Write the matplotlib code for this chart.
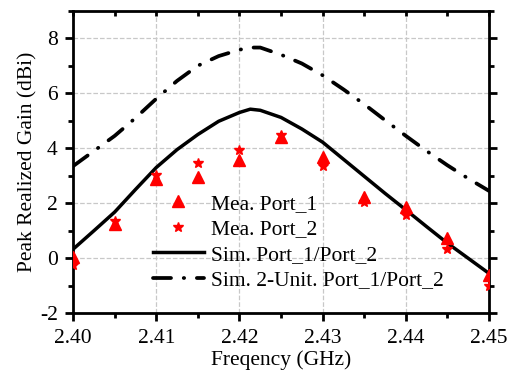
import matplotlib
matplotlib.use('Agg')
import matplotlib.pyplot as plt
from matplotlib.ticker import MultipleLocator

plt.rcParams['font.family'] = ['Liberation Serif', 'DejaVu Serif']
plt.rcParams['font.size'] = 15.5
plt.rcParams['axes.unicode_minus'] = False

# measured points
freq_mea = [2.400, 2.405, 2.410, 2.415, 2.420, 2.425, 2.430, 2.435, 2.440, 2.445, 2.450]
port1 = [0.05, 1.24, 2.89, 2.97, 3.58, 4.42, 3.67, 2.22, 1.86, 0.75, -0.61]
port2 = [-0.25, 1.36, 3.01, 3.46, 3.94, 4.49, 3.35, 2.04, 1.59, 0.32, -1.01]

# simulated curves
freq_sim = [2.4000, 2.4025, 2.4050, 2.4075, 2.4100, 2.4125, 2.4150, 2.4175, 2.4200,
            2.4213, 2.4225, 2.4250, 2.4275, 2.4300, 2.4325, 2.4350, 2.4375, 2.4400,
            2.4425, 2.4450, 2.4475, 2.4500]
sim_single = [0.33, 1.00, 1.68, 2.50, 3.30, 3.95, 4.50, 4.98, 5.30,
              5.42, 5.38, 5.12, 4.70, 4.22, 3.60, 2.98, 2.36, 1.76,
              1.15, 0.55, 0.00, -0.55]
sim_2unit = [3.35, 3.90, 4.45, 5.10, 5.80, 6.45, 7.00, 7.35, 7.58,
             7.66, 7.66, 7.40, 7.08, 6.65, 6.14, 5.60, 5.02, 4.45,
             3.90, 3.38, 2.90, 2.45]
xticks = [2.40, 2.41, 2.42, 2.43, 2.44, 2.45]
xlabels = ['2.40', '2.41', '2.42', '2.43', '2.44', '2.45']

fig = plt.figure(figsize=(5.11, 3.75), dpi=100)
ax = fig.add_axes([0.143, 0.1645, 0.814, 0.807])

ax.plot(freq_mea, port1, '^', color='red', markersize=8, ls='none', label='Mea. Port_1', zorder=4)
ax.plot(freq_mea, port2, '*', color='red', markersize=7, ls='none', label='Mea. Port_2', zorder=4)
ax.plot(freq_sim, sim_single, '-', color='black', lw=2.5, label='Sim. Port_1/Port_2', zorder=3)
ax.plot(freq_sim, sim_2unit, color='black', lw=2.7, ls=(0, (4.8, 3.4, 0.1, 3.4)),
        dash_capstyle='round', label='Sim. 2-Unit. Port_1/Port_2', zorder=3)

ax.set_xlim(2.40, 2.45)
ax.set_ylim(-2, 9)
ax.set_xticks(xticks)
ax.set_xticklabels(xlabels)
ax.xaxis.set_minor_locator(MultipleLocator(0.005))
ax.yaxis.set_major_locator(MultipleLocator(2))
ax.yaxis.set_minor_locator(MultipleLocator(1))

ax.grid(True, which='major', ls='--', color='#c8c8c8', lw=0.9)
ax.set_axisbelow(True)

for s in ax.spines.values():
    s.set_linewidth(2)
ax.tick_params(which='major', direction='out', length=6, width=2, pad=5)
ax.tick_params(which='minor', direction='out', length=3.5, width=2)
ax.tick_params(axis='y', which='both', right=True, labelright=False)

# top ticks point inward
top = ax.twiny()
top.set_xlim(2.40, 2.45)
top.set_xticks(xticks)
top.xaxis.set_minor_locator(MultipleLocator(0.005))
top.tick_params(which='both', direction='in', length=3.5, width=2, labeltop=False)
for s in top.spines.values():
    s.set_visible(False)

ax.set_xlabel('Freqency (GHz)', labelpad=2)
ax.set_ylabel('Peak Realized Gain (dBi)', labelpad=2)

ax.legend(loc='upper left', bbox_to_anchor=(0.191, 0.395), frameon=False,
          borderpad=0, borderaxespad=0, handlelength=2.4, handletextpad=0.3,
          labelspacing=0.25, fontsize=15.5)

fig.savefig('out.png', dpi=100)
